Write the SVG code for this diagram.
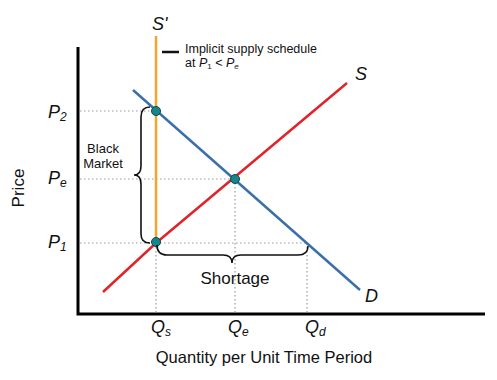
<svg xmlns="http://www.w3.org/2000/svg" width="497" height="380" viewBox="0 0 497 380">
<style>
text{font-family:"Liberation Sans",Arial,sans-serif;fill:#111}
.lab{font-size:18px;font-style:italic}
.sub{font-size:12px}
.dot{fill:#17868a;stroke:#0b4a4d;stroke-width:1}
.guide{stroke:#9a9a9a;stroke-width:1.2;stroke-dasharray:1.5 2.5;fill:none}
.brace{fill:none;stroke:#111;stroke-width:1.6}
</style>
<rect width="497" height="380" fill="#fff"/>
<g id="axes">
<path d="M78,47 V314 H485" fill="none" stroke="#000" stroke-width="3"/>
</g>
<g id="connectors">
<path class="guide" d="M80,111 H156 M80,179 H235 M80,243 H307 M156,243 V313 M235,179 V313 M307,243 V313"/>
</g>
<g id="supply-S-prime">
<line x1="156" y1="36" x2="156" y2="242" stroke="#f2a531" stroke-width="2.5"/>
<text class="lab" x="152" y="30">S'</text>
</g>
<g id="supply-S">
<polyline points="103,292 156,243 347,83" fill="none" stroke="#e0242a" stroke-width="2.5"/>
<text class="lab" x="355" y="80">S</text>
</g>
<g id="demand-D">
<line x1="133" y1="90" x2="360" y2="290" stroke="#3b6fa8" stroke-width="2.5"/>
<text class="lab" x="365" y="302">D</text>
</g>
<g id="legend">
<line x1="162" y1="52" x2="179" y2="52" stroke="#111" stroke-width="2.5"/>
<text x="185" y="52.5" font-size="12.5">Implicit supply schedule</text>
<text x="185" y="67" font-size="12.5">at <tspan font-style="italic">P</tspan><tspan font-size="8" dy="2">1</tspan><tspan dy="-2"> &lt; </tspan><tspan font-style="italic">P</tspan><tspan font-style="italic" font-size="8" dy="2">e</tspan></text>
</g>
<g id="points">
<circle class="dot" cx="156" cy="111" r="4.5"/>
<circle class="dot" cx="235" cy="179" r="4.5"/>
<circle class="dot" cx="156" cy="242" r="4.5"/>
</g>
<g id="black-market">
<path class="brace" d="M150,107 Q141,107 141,117 L141,166 Q141,175 134,175 Q141,175 141,184 L141,234 Q141,243 150,243"/>
<text x="103" y="153" font-size="13" text-anchor="middle">Black</text>
<text x="103" y="168" font-size="13" text-anchor="middle">Market</text>
</g>
<g id="shortage">
<path class="brace" d="M157,245 Q157,255 167,255 L223,255 Q232,255 232,263 Q232,255 241,255 L298,255 Q308,255 308,246"/>
<text x="235" y="284" font-size="17" text-anchor="middle">Shortage</text>
</g>
<g id="price-labels">
<text class="lab" x="48" y="118">P<tspan class="sub" dy="3">2</tspan></text>
<text class="lab" x="48" y="184">P<tspan class="sub" dy="3">e</tspan></text>
<text class="lab" x="48" y="248">P<tspan class="sub" dy="3">1</tspan></text>
<text x="24" y="188" font-size="17" text-anchor="middle" transform="rotate(-90 24 188)">Price</text>
</g>
<g id="quantity-labels">
<text class="lab" x="151" y="333">Q<tspan class="sub" dy="3">s</tspan></text>
<text class="lab" x="228" y="333">Q<tspan class="sub" dy="3">e</tspan></text>
<text class="lab" x="305" y="333">Q<tspan class="sub" dy="3">d</tspan></text>
<text x="264" y="363" font-size="16.5" text-anchor="middle">Quantity per Unit Time Period</text>
</g>
</svg>
